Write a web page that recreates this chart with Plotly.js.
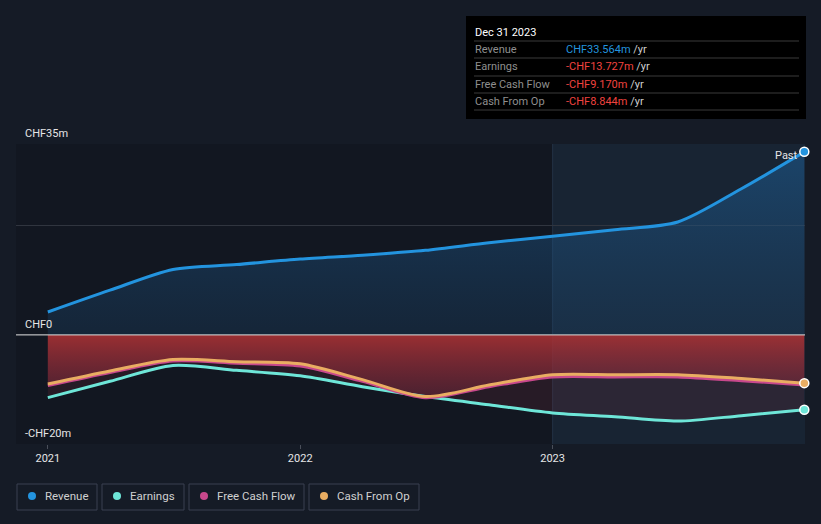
<!DOCTYPE html>
<html>
<head>
<meta charset="utf-8">
<script src="https://cdn.plot.ly/plotly-3.0.1.min.js"></script>
<style>
html,body{margin:0;padding:0;background:#151b26;}
#chart{width:821px;height:524px;}
</style>
</head>
<body>
<div id="chart"></div>
<script>
const dates = ['2021-01-01','2021-04-01','2021-07-01','2021-10-01','2022-01-01','2022-04-01','2022-07-01','2022-10-01','2023-01-01','2023-04-01','2023-07-01','2023-10-01','2023-12-31'];
const revenue = [4.2, 8.2, 12.0, 12.9, 13.9, 14.6, 15.5, 16.9, 18.1, 19.3, 20.7, 26.8, 33.564];
const earnings = [-11.5, -8.5, -5.6, -6.5, -7.5, -9.5, -11.3, -12.8, -14.3, -15.0, -15.8, -14.8, -13.727];
const fcf = [-9.3, -6.9, -4.8, -5.2, -5.7, -8.5, -11.5, -9.5, -7.7, -7.7, -7.7, -8.4, -9.170];
const cfo = [-9.0, -6.6, -4.5, -4.9, -5.3, -8.2, -11.3, -9.2, -7.3, -7.3, -7.3, -8.0, -8.844];
const yTickVals = [-20, 0, 35];
const yTickText = ['-CHF20m', 'CHF0', 'CHF35m'];
const seriesNames = ['Revenue', 'Earnings', 'Free Cash Flow', 'Cash From Op'];
const seriesColors = ['#2394df', '#6ee6d8', '#c8488c', '#e9ad62'];
const tipValues = ['CHF33.564m', '-CHF13.727m', '-CHF9.170m', '-CHF8.844m'];
const tipDate = 'Dec 31 2023';

const lineShape = {shape: 'spline', smoothing: 0.8};
const traces = [];
traces.push({x: dates, y: revenue, type: 'scatter', mode: 'none', fill: 'tozeroy',
  fillgradient: {type: 'vertical', colorscale: [[0, 'rgba(30,80,125,0.25)'], [1, 'rgba(30,100,160,0.5)']]},
  line: lineShape, showlegend: false, hoverinfo: 'skip'});
traces.push({x: dates, y: earnings, type: 'scatter', mode: 'none', fill: 'tozeroy',
  fillcolor: 'rgba(150,50,70,0.16)', line: lineShape, showlegend: false, hoverinfo: 'skip'});
traces.push({x: dates, y: cfo, type: 'scatter', mode: 'none', fill: 'tozeroy',
  fillgradient: {type: 'vertical', colorscale: [[0, 'rgba(120,40,60,0.45)'], [1, 'rgba(175,50,52,0.85)']]},
  line: lineShape, showlegend: false, hoverinfo: 'skip'});
const lineData = [revenue, earnings, fcf, cfo];
for (let i = 0; i < 4; i++) {
  traces.push({x: dates, y: lineData[i], type: 'scatter', mode: 'lines', name: seriesNames[i],
    line: {color: seriesColors[i], width: 3, shape: 'spline', smoothing: 0.8}, showlegend: false, hoverinfo: 'skip'});
}
const lastIdx = dates.length - 1;
[0, 1, 3].forEach(i => {
  traces.push({x: [dates[lastIdx]], y: [lineData[i][lastIdx]], type: 'scatter', mode: 'markers',
    marker: {color: seriesColors[i], size: 9, line: {color: '#ffffff', width: 1.5}}, showlegend: false, hoverinfo: 'skip', cliponaxis: false});
});

const shapes = [
  {type: 'rect', xref: 'x', yref: 'paper', x0: '2023-01-01', x1: '2024-01-01', y0: 0, y1: 1,
   fillcolor: 'rgba(40,80,110,0.18)', line: {width: 0}, layer: 'below'},
  {type: 'rect', xref: 'x', yref: 'paper', x0: '2020-11-16', x1: '2023-01-01', y0: 0, y1: 1,
   fillcolor: 'rgba(0,0,0,0.12)', line: {width: 0}, layer: 'below'},
  {type: 'line', xref: 'x', yref: 'paper', x0: '2023-01-01', x1: '2023-01-01', y0: 0, y1: 1,
   line: {color: 'rgba(60,90,120,0.35)', width: 1}, layer: 'below'},
  {type: 'line', xref: 'paper', yref: 'y', x0: 0, x1: 1, y0: 0, y1: 0, line: {color: '#d8d8d8', width: 1}, layer: 'above'}
];
const annotations = [];
yTickVals.forEach((v, i) => {
  annotations.push({xref: 'paper', yref: 'y', x: 0.009, y: v, xanchor: 'left', yanchor: 'bottom', yshift: 2,
    text: yTickText[i], showarrow: false, font: {family: 'Roboto', size: 11, color: '#e6e6e6'}});
});
annotations.push({xref: 'x', yref: 'y', x: '2023-12-20', y: 33.564, xanchor: 'right', yanchor: 'middle', yshift: -4, xshift: 3,
  text: 'Past', showarrow: false, font: {family: 'Roboto', size: 11, color: '#e6e6e6'}});

const W = 789, H = 300;
const px = v => (v - 16) / W;
const py = v => (444 - v) / H;
shapes.push({type: 'rect', xref: 'paper', yref: 'paper', x0: px(466), x1: px(806), y0: py(119), y1: py(16),
  fillcolor: '#000000', line: {width: 0}, layer: 'above'});
annotations.push({xref: 'paper', yref: 'paper', x: px(473), y: py(32), xanchor: 'left', yanchor: 'middle',
  text: tipDate, showarrow: false, font: {family: 'Roboto', size: 11, color: '#ffffff'}});
const rowY = [49, 66, 84, 101];
const sepY = [41, 58, 76, 93, 110];
sepY.forEach(s => shapes.push({type: 'line', xref: 'paper', yref: 'paper', x0: px(474), x1: px(799), y0: py(s), y1: py(s),
  line: {color: '#3a3a3a', width: 1}, layer: 'above'}));
for (let i = 0; i < 4; i++) {
  annotations.push({xref: 'paper', yref: 'paper', x: px(473), y: py(rowY[i]), xanchor: 'left', yanchor: 'middle',
    text: seriesNames[i], showarrow: false, font: {family: 'Roboto', size: 11, color: '#8f8f8f'}});
  const col = i === 0 ? '#2394df' : '#f0433f';
  annotations.push({xref: 'paper', yref: 'paper', x: px(564), y: py(rowY[i]), xanchor: 'left', yanchor: 'middle',
    text: '<span style="color:' + col + '">' + tipValues[i] + '</span><span style="color:#cfcfcf"> /yr</span>',
    showarrow: false, font: {family: 'Roboto', size: 11, color: col}});
}
const legX = [[17, 97], [102, 184], [189, 304], [309, 419]];
for (let i = 0; i < 4; i++) {
  shapes.push({type: 'rect', xref: 'paper', yref: 'paper', x0: px(legX[i][0]), x1: px(legX[i][1]), y0: py(510), y1: py(484),
    fillcolor: 'rgba(0,0,0,0)', line: {color: '#3b4150', width: 1}, layer: 'above'});
  shapes.push({type: 'circle', xref: 'paper', yref: 'paper', x0: px(legX[i][0] + 11), x1: px(legX[i][0] + 19), y0: py(500), y1: py(492),
    fillcolor: seriesColors[i], line: {width: 0}, layer: 'above'});
  annotations.push({xref: 'paper', yref: 'paper', x: px(legX[i][0] + 26), y: py(496), xanchor: 'left', yanchor: 'middle',
    text: seriesNames[i], showarrow: false, font: {family: 'Roboto', size: 11.5, color: '#d0d0d0'}});
}

const layout = {
  width: 821, height: 524,
  paper_bgcolor: '#151b26', plot_bgcolor: 'rgba(0,0,0,0)',
  margin: {l: 16, r: 16, t: 144, b: 80},
  showlegend: false,
  xaxis: {type: 'date', range: ['2020-11-16', '2024-01-01'], tickvals: ['2021-01-01', '2022-01-01', '2023-01-01'],
    ticktext: ['2021', '2022', '2023'], showgrid: false, zeroline: false, ticks: 'outside', ticklen: 4, tickcolor: '#4a4f5a',
    tickfont: {family: 'Roboto', size: 11, color: '#e6e6e6'}, showline: false, fixedrange: true},
  yaxis: {range: [-20, 35], tickvals: [-20, 0, 20, 35], showticklabels: false, showgrid: true, gridcolor: '#30353f',
    gridwidth: 1, zeroline: false, fixedrange: true},
  shapes: shapes, annotations: annotations
};
Plotly.newPlot('chart', traces, layout, {displayModeBar: false, staticPlot: true});
</script>
</body>
</html>
